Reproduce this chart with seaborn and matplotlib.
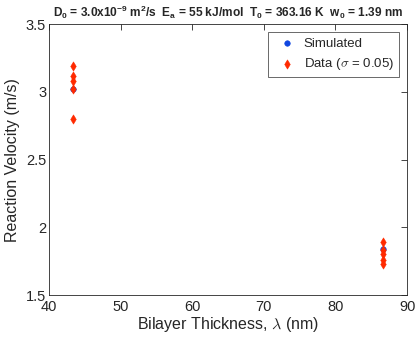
import pandas as pd
import seaborn as sns
import matplotlib.pyplot as plt

# Values
sim_thickness = [43.3, 86.6]
sim_velocity = [3.02, 1.84]

data_thickness = [43.3, 43.3, 43.3, 43.3, 43.3, 86.6, 86.6, 86.6, 86.6, 86.6]
data_velocity = [3.19, 3.12, 3.08, 3.02, 2.80, 1.89, 1.83, 1.80, 1.76, 1.73]

x_ticks = [40, 50, 60, 70, 80, 90]
y_ticks = [1.5, 2, 2.5, 3, 3.5]


def make_plot():
    sim_df = pd.DataFrame({'thickness': sim_thickness, 'velocity': sim_velocity})
    data_df = pd.DataFrame({'thickness': data_thickness, 'velocity': data_velocity})

    sns.set_theme(style="white")
    plt.rcParams['font.family'] = ['Liberation Sans', 'DejaVu Sans']
    plt.rcParams['mathtext.default'] = 'regular'
    plt.rcParams['mathtext.fontset'] = 'cm'

    fig = plt.figure(figsize=(4.15, 3.44), dpi=100)
    ax = fig.add_axes([0.118, 0.142, 0.863, 0.788])

    # simulated first, measured data drawn on top
    sns.scatterplot(x='thickness', y='velocity', data=sim_df, ax=ax,
                    marker='o', s=16, color='#1046e0', edgecolor='#1046e0',
                    linewidth=0.4, label='Simulated', zorder=3)
    sns.scatterplot(x='thickness', y='velocity', data=data_df, ax=ax,
                    marker='d', s=22, color='#ff2a00', edgecolor='#ff2a00',
                    linewidth=0.4, label=r'Data ($\mathit{\sigma}$ = 0.05)', zorder=4)

    ax.set_xlim(40, 90)
    ax.set_ylim(1.5, 3.5)
    ax.set_xticks(x_ticks)
    ax.set_yticks(y_ticks)
    ax.set_yticklabels(['1.5', '2', '2.5', '3', '3.5'])

    for side in ax.spines.values():
        side.set_color('#262626')
        side.set_linewidth(0.6)
    ax.tick_params(direction='in', length=4, width=0.6, top=True, right=True,
                   labelsize=10.5, colors='#262626', pad=2)
    ax.tick_params(axis='x', pad=3.5)

    ax.set_xlabel(r'Bilayer Thickness, $\mathit{\lambda}$ (nm)', fontsize=11.5,
                  color='#262626', labelpad=1)
    ax.set_ylabel('Reaction Velocity (m/s)', fontsize=11.5, color='#262626',
                  labelpad=4)
    ax.set_title(r'D$_0$ = 3.0x10$^{-9}$ m$^2$/s  E$_a$ = 55 kJ/mol  '
                 r'T$_0$ = 363.16 K  w$_0$ = 1.39 nm',
                 fontsize=8.6, fontweight='bold', pad=5)

    leg = ax.legend(loc='upper right', fontsize=9.5, frameon=True,
                    fancybox=False, borderpad=0.4, handletextpad=0.3,
                    borderaxespad=0.6)
    leg.get_frame().set_edgecolor('#262626')
    leg.get_frame().set_linewidth(0.6)

    plt.savefig('out.png', dpi=100)
    plt.close()


if __name__ == "__main__":
    make_plot()
